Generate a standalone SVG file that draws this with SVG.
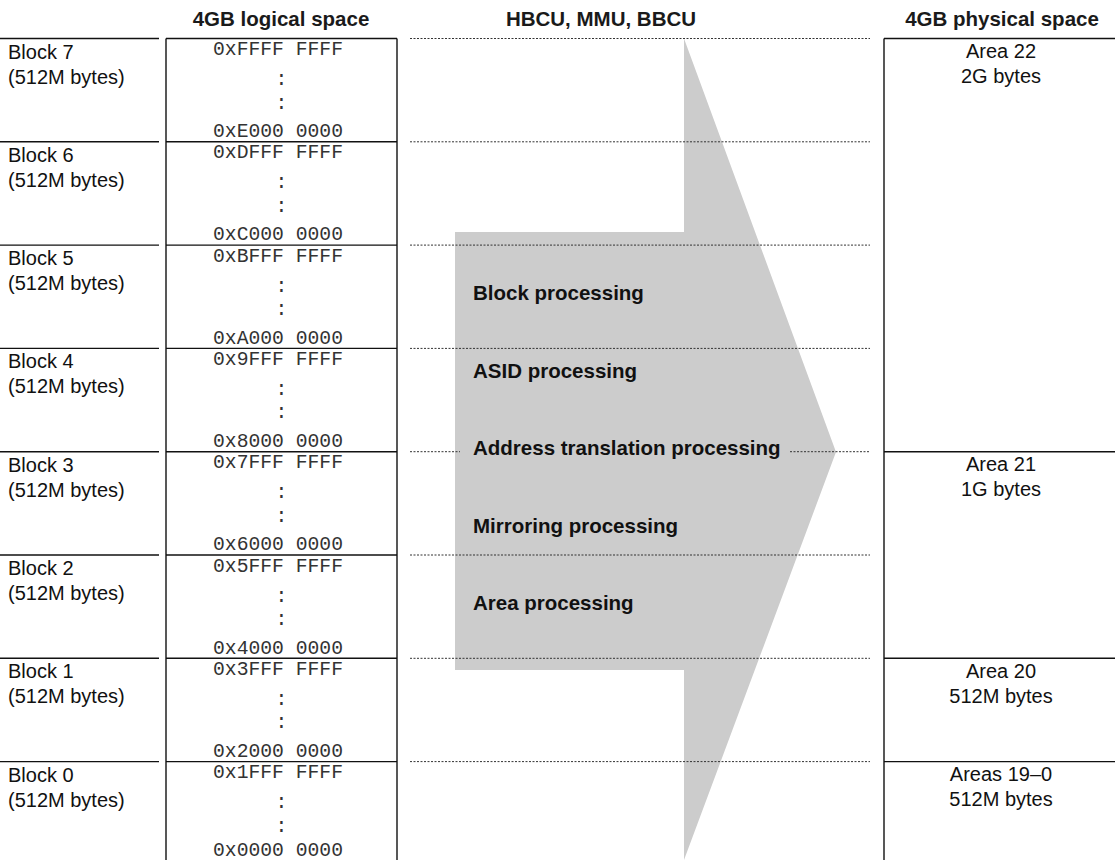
<svg xmlns="http://www.w3.org/2000/svg" width="1115" height="860" viewBox="0 0 1115 860">
<style>
.hdr{font-family:"Liberation Sans",Arial,sans-serif;font-weight:bold;font-size:20.5px;fill:#1a1a1a;text-anchor:middle}
.lbl{font-family:"Liberation Sans",Arial,sans-serif;font-size:20px;fill:#111}
.area{font-family:"Liberation Sans",Arial,sans-serif;font-size:20px;fill:#111;text-anchor:middle}
.addr{font-family:"Liberation Mono","Courier New",monospace;font-size:19.7px;fill:#333;text-anchor:middle}
.proc{font-family:"Liberation Sans",Arial,sans-serif;font-weight:bold;font-size:20.5px;fill:#111}
.ln{stroke:#111;stroke-width:1.4;fill:none}
.dot{stroke:#333;stroke-width:1;stroke-dasharray:2 1.5;fill:none}
</style>
<rect width="1115" height="860" fill="#fff"/>
<g id="headers">
<text class="hdr" x="281" y="26">4GB logical space</text>
<text class="hdr" x="601" y="26">HBCU, MMU, BBCU</text>
<text class="hdr" x="1002" y="26">4GB physical space</text>
</g>
<g id="arrow">
<polygon points="684,38.5 836,452 684,860 684,670 455,670 455,232 684,232" fill="#cccccc"/>
</g>
<g id="logical-box">
<line class="ln" x1="166" y1="38.5" x2="166" y2="860"/>
<line class="ln" x1="397" y1="38.5" x2="397" y2="860"/>
<line class="ln" x1="166" y1="38.5" x2="397" y2="38.5"/>
</g>
<g id="block7">
<line class="ln" x1="0" y1="38.5" x2="159" y2="38.5"/>
<text class="lbl" x="8" y="58.5">Block 7</text><text class="lbl" x="8" y="83.5">(512M bytes)</text>
<text class="addr" x="278" y="55">0xFFFF FFFF</text><text class="addr" x="281.5" y="85">:</text><text class="addr" x="281.5" y="108.5">:</text><text class="addr" x="278" y="137">0xE000 0000</text>
</g>
<g id="block6">
<line class="ln" x1="0" y1="141.8" x2="159" y2="141.8"/><line class="ln" x1="166" y1="141.8" x2="397" y2="141.8"/>
<text class="lbl" x="8" y="161.8">Block 6</text><text class="lbl" x="8" y="186.8">(512M bytes)</text>
<text class="addr" x="278" y="158.3">0xDFFF FFFF</text><text class="addr" x="281.5" y="188.3">:</text><text class="addr" x="281.5" y="211.8">:</text><text class="addr" x="278" y="240.3">0xC000 0000</text>
</g>
<g id="block5">
<line class="ln" x1="0" y1="245.1" x2="159" y2="245.1"/><line class="ln" x1="166" y1="245.1" x2="397" y2="245.1"/>
<text class="lbl" x="8" y="265.1">Block 5</text><text class="lbl" x="8" y="290.1">(512M bytes)</text>
<text class="addr" x="278" y="261.6">0xBFFF FFFF</text><text class="addr" x="281.5" y="291.6">:</text><text class="addr" x="281.5" y="315.1">:</text><text class="addr" x="278" y="343.6">0xA000 0000</text>
</g>
<g id="block4">
<line class="ln" x1="0" y1="348.4" x2="159" y2="348.4"/><line class="ln" x1="166" y1="348.4" x2="397" y2="348.4"/>
<text class="lbl" x="8" y="368.4">Block 4</text><text class="lbl" x="8" y="393.4">(512M bytes)</text>
<text class="addr" x="278" y="364.9">0x9FFF FFFF</text><text class="addr" x="281.5" y="394.9">:</text><text class="addr" x="281.5" y="418.4">:</text><text class="addr" x="278" y="446.9">0x8000 0000</text>
</g>
<g id="block3">
<line class="ln" x1="0" y1="451.7" x2="159" y2="451.7"/><line class="ln" x1="166" y1="451.7" x2="397" y2="451.7"/>
<text class="lbl" x="8" y="471.7">Block 3</text><text class="lbl" x="8" y="496.7">(512M bytes)</text>
<text class="addr" x="278" y="468.2">0x7FFF FFFF</text><text class="addr" x="281.5" y="498.2">:</text><text class="addr" x="281.5" y="521.7">:</text><text class="addr" x="278" y="550.2">0x6000 0000</text>
</g>
<g id="block2">
<line class="ln" x1="0" y1="555" x2="159" y2="555"/><line class="ln" x1="166" y1="555" x2="397" y2="555"/>
<text class="lbl" x="8" y="575">Block 2</text><text class="lbl" x="8" y="600">(512M bytes)</text>
<text class="addr" x="278" y="571.5">0x5FFF FFFF</text><text class="addr" x="281.5" y="601.5">:</text><text class="addr" x="281.5" y="625">:</text><text class="addr" x="278" y="653.5">0x4000 0000</text>
</g>
<g id="block1">
<line class="ln" x1="0" y1="658.3" x2="159" y2="658.3"/><line class="ln" x1="166" y1="658.3" x2="397" y2="658.3"/>
<text class="lbl" x="8" y="678.3">Block 1</text><text class="lbl" x="8" y="703.3">(512M bytes)</text>
<text class="addr" x="278" y="674.8">0x3FFF FFFF</text><text class="addr" x="281.5" y="704.8">:</text><text class="addr" x="281.5" y="728.3">:</text><text class="addr" x="278" y="756.8">0x2000 0000</text>
</g>
<g id="block0">
<line class="ln" x1="0" y1="761.6" x2="159" y2="761.6"/><line class="ln" x1="166" y1="761.6" x2="397" y2="761.6"/>
<text class="lbl" x="8" y="781.6">Block 0</text><text class="lbl" x="8" y="806.6">(512M bytes)</text>
<text class="addr" x="278" y="778.1">0x1FFF FFFF</text><text class="addr" x="281.5" y="808.1">:</text><text class="addr" x="281.5" y="831.6">:</text><text class="addr" x="278" y="855.5">0x0000 0000</text>
</g>
<g id="connectors">
<line class="dot" x1="410" y1="38.5" x2="870" y2="38.5"/>
<line class="dot" x1="410" y1="141.8" x2="870" y2="141.8"/>
<line class="dot" x1="410" y1="245.1" x2="870" y2="245.1"/>
<line class="dot" x1="410" y1="348.4" x2="870" y2="348.4"/>
<line class="dot" x1="410" y1="451.7" x2="460" y2="451.7"/>
<line class="dot" x1="790" y1="451.7" x2="870" y2="451.7"/>
<line class="dot" x1="410" y1="555" x2="870" y2="555"/>
<line class="dot" x1="410" y1="658.3" x2="870" y2="658.3"/>
<line class="dot" x1="410" y1="761.6" x2="870" y2="761.6"/>
</g>
<g id="processing">
<text class="proc" x="473" y="300">Block processing</text>
<text class="proc" x="473" y="377.5">ASID processing</text>
<text class="proc" x="473" y="455">Address translation processing</text>
<text class="proc" x="473" y="532.5">Mirroring processing</text>
<text class="proc" x="473" y="610">Area processing</text>
</g>
<g id="physical-box">
<line class="ln" x1="884" y1="38.5" x2="884" y2="860"/>
<line class="ln" x1="884" y1="38.5" x2="1115" y2="38.5"/>
</g>
<g id="area22">
<text class="area" x="1001" y="58">Area 22</text><text class="area" x="1001" y="83">2G bytes</text>
</g>
<g id="area21">
<line class="ln" x1="884" y1="451.7" x2="1115" y2="451.7"/>
<text class="area" x="1001" y="471">Area 21</text><text class="area" x="1001" y="496">1G bytes</text>
</g>
<g id="area20">
<line class="ln" x1="884" y1="658.3" x2="1115" y2="658.3"/>
<text class="area" x="1001" y="677.5">Area 20</text><text class="area" x="1001" y="702.5">512M bytes</text>
</g>
<g id="areas19-0">
<line class="ln" x1="884" y1="761.6" x2="1115" y2="761.6"/>
<text class="area" x="1001" y="780.8">Areas 19–0</text><text class="area" x="1001" y="805.8">512M bytes</text>
</g>
</svg>
